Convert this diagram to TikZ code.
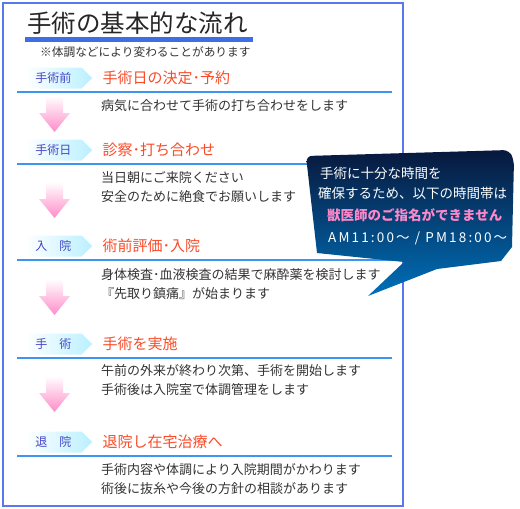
\documentclass[tikz,border=0pt]{standalone}
\usepackage{fontspec}
\setmainfont{Noto Sans CJK JP}
\usetikzlibrary{positioning,shapes.symbols}

\definecolor{framecol}{RGB}{90,120,235}
\definecolor{titlebar}{RGB}{60,110,230}
\definecolor{stepline}{RGB}{60,150,240}
\definecolor{tabtext}{RGB}{70,70,200}
\definecolor{tabcyan}{RGB}{185,240,255}
\definecolor{headred}{RGB}{250,75,40}
\definecolor{bodytext}{RGB}{51,51,51}
\definecolor{arrowpink}{RGB}{255,140,200}
\definecolor{calltop}{RGB}{8,24,60}
\definecolor{callbot}{RGB}{0,112,185}
\definecolor{callpink}{RGB}{255,135,200}

\tikzset{
  tab/.style={shape=signal, signal to=east, signal pointer angle=90, minimum width=67pt, minimum height=21pt, inner sep=0pt, left color=white, right color=tabcyan, text=tabtext, font=\fontsize{12}{14}\selectfont, anchor=west},
  head/.style={inner sep=0pt, text=headred, font=\fontsize{15}{18}\selectfont},
  desc/.style={inner sep=0pt, anchor=north west, align=left, text=bodytext, font=\fontsize{13}{19.5}\selectfont},
  sepline/.style={stepline, line width=1.3pt},
  downarrow/.style={top color=white, bottom color=arrowpink},
  calltext/.style={inner sep=0pt, anchor=west, text=white, font=\fontsize{13.5}{16}\selectfont}
}

\begin{document}
\begin{tikzpicture}[x=1pt, y=-1pt]
\useasboundingbox (0,0) rectangle (520,509);
\draw[framecol, line width=1.2pt] (3,3) rectangle (403,506);

% title
\node[anchor=west, inner sep=0pt, font=\fontsize{24.5}{28}\selectfont, text=black!85] (title) at (27,23) {手術の基本的な流れ};
\draw[titlebar, line width=5pt] (25,39) -- (253,39);
\node[anchor=west, inner sep=0pt, font=\fontsize{11.7}{14}\selectfont, text=bodytext] (note) at (40,52) {※体調などにより変わることがあります};

% steps
\node[tab] (t1) at (25,78) {手術前};
\node[head, right=10pt of t1] (h1) {手術日の決定･予約};
\draw[sepline] (17,92) -- (392,92);
\node[desc] (d1) at (101,99) {病気に合わせて手術の打ち合わせをします};

\node[tab] (t2) at (25,150) {手術日};
\node[head, right=10pt of t2] (h2) {診察･打ち合わせ};
\draw[sepline] (17,164) -- (392,164);
\node[desc] (d2) at (101,171) {当日朝にご来院ください\\安全のために絶食でお願いします};

\node[tab] (t3) at (25,246) {入　院};
\node[head, right=10pt of t3] (h3) {術前評価･入院};
\draw[sepline] (17,260) -- (392,260);
\node[desc] (d3) at (101,268) {身体検査･血液検査の結果で麻酔薬を検討します\\『先取り鎮痛』が始まります};

\node[tab] (t4) at (25,344) {手　術};
\node[head, right=10pt of t4] (h4) {手術を実施};
\draw[sepline] (17,358) -- (392,358);
\node[desc] (d4) at (101,364) {午前の外来が終わり次第、手術を開始します\\手術後は入院室で体調管理をします};

\node[tab] (t5) at (25,442) {退　院};
\node[head, right=10pt of t5] (h5) {退院し在宅治療へ};
\draw[sepline] (17,456) -- (392,456);
\node[desc] (d5) at (101,463) {手術内容や体調により入院期間がかわります\\術後に抜糸や今後の方針の相談があります};

% pink arrows
\foreach \tip in {132,218,315,412}
  \shade[downarrow] (46,\tip-36) -- (63,\tip-36) -- (63,\tip-19) -- (70,\tip-19)
    -- (54.5,\tip) -- (39,\tip-19) -- (46,\tip-19) -- cycle;

% callout
\shade[top color=calltop, bottom color=callbot] (317,253) [rounded corners=6pt] -- (306,156)
  -- (509,150) -- (514,160) [sharp corners] -- (512,247) -- (501,261) -- (437,269)
  -- (368,296) -- (404,262) -- cycle;
\node[calltext] (c1) at (320,173) {手術に十分な時間を};
\node[calltext] (c2) at (318,193) {確保するため、以下の時間帯は};
\node[calltext, text=callpink, font=\fontsize{13.5}{16}\selectfont\bfseries] (c3) at (327,215) {獣医師のご指名ができません};
\node[calltext, font=\fontsize{13.5}{16}\selectfont\addfontfeature{LetterSpace=16}] (c4) at (328,238) {AM11:00～ / PM18:00～};
\end{tikzpicture}
\end{document}
